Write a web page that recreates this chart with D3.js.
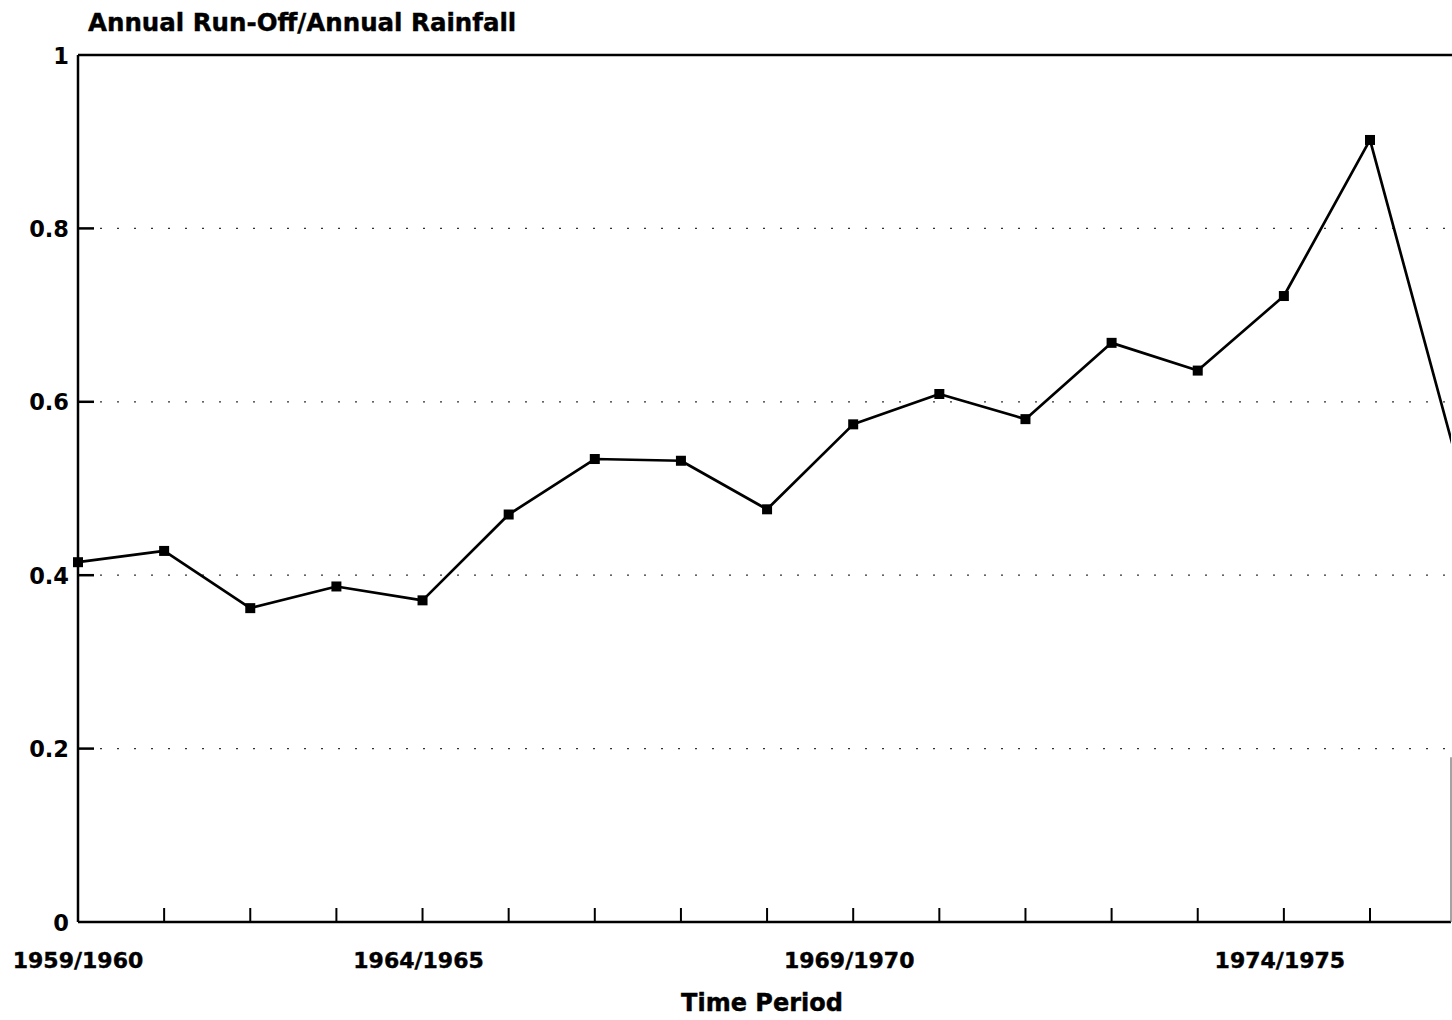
<!DOCTYPE html>
<html>
<head>
<meta charset="utf-8">
<script src="https://cdn.jsdelivr.net/npm/d3@7/dist/d3.min.js"></script>
<style>
  html, body { margin: 0; padding: 0; background: #fff; }
  svg { display: block; }
  text { font-family: "DejaVu Sans", sans-serif; font-weight: bold; fill: #000; }
</style>
</head>
<body>
<svg id="chart" width="1452" height="1020"></svg>
<script>
// ---- data ----
const periodIndex = [0,1,2,3,4,5,6,7,8,9,10,11,12,13,14,15,16];
const ratioValues = [0.415,0.428,0.362,0.387,0.371,0.470,0.534,0.532,0.476,0.574,0.609,0.580,0.668,0.636,0.722,0.902,0.535];
const xTickIndex = [0,4,9,14];
const xTickLabels = ["1959/1960","1964/1965","1969/1970","1974/1975"];
const yTicks = [0,0.2,0.4,0.6,0.8,1];
const yTickLabels = ["0","0.2","0.4","0.6","0.8","1"];
const titleText = "Annual Run-Off/Annual Rainfall";
const xTitle = "Time Period";

// ---- layout ----
const svg = d3.select("#chart");
const mLeft = 78, mRight = 1451, mTop = 55, mBottom = 922;

const x = d3.scaleLinear().domain([0, 15]).range([mLeft, 1370]);
const y = d3.scaleLinear().domain([0, 1]).range([mBottom, mTop]);

svg.append("defs").append("clipPath").attr("id","plotclip")
  .append("rect").attr("x", mLeft - 8).attr("y", mTop - 8)
  .attr("width", mRight - mLeft + 8).attr("height", mBottom - mTop + 16);

// gridlines (sparse dotted)
svg.append("g").selectAll("line").data(yTicks.filter(d => d > 0 && d < 1)).join("line")
  .attr("x1", mLeft + 22).attr("x2", mRight)
  .attr("y1", d => y(d)).attr("y2", d => y(d))
  .attr("stroke", "#333").attr("stroke-width", 1.3)
  .attr("stroke-dasharray", "2,15");

// frame: top line, left axis, bottom axis
svg.append("line").attr("x1", mLeft).attr("x2", 1452).attr("y1", y(1)).attr("y2", y(1))
  .attr("stroke", "#000").attr("stroke-width", 2.5);
svg.append("line").attr("x1", mLeft).attr("x2", mLeft).attr("y1", y(1)).attr("y2", y(0))
  .attr("stroke", "#000").attr("stroke-width", 2.5);
svg.append("line").attr("x1", mLeft).attr("x2", mRight).attr("y1", y(0)).attr("y2", y(0))
  .attr("stroke", "#000").attr("stroke-width", 2.5);
// faint right border (partially visible)
svg.append("line").attr("x1", mRight).attr("x2", mRight).attr("y1", y(0.19)).attr("y2", y(0))
  .attr("stroke", "#666").attr("stroke-width", 1.2);

// y ticks (inside) and labels
const yAxis = d3.axisLeft(y).tickValues(yTicks).tickSize(0).tickFormat((d,i) => yTickLabels[i]);
const gy = svg.append("g").attr("transform", `translate(${mLeft - 9},0)`).call(yAxis);
gy.select(".domain").remove();
gy.selectAll("text").attr("font-size", 22.5).attr("font-family", "DejaVu Sans").attr("font-weight", "bold")
  .attr("fill", "#000").attr("dy", "0.36em").attr("x", 0);
svg.append("g").selectAll("line").data(yTicks.filter(d => d > 0 && d < 1)).join("line")
  .attr("x1", mLeft).attr("x2", mLeft + 16)
  .attr("y1", d => y(d)).attr("y2", d => y(d))
  .attr("stroke", "#000").attr("stroke-width", 2.5);

// x ticks (inside, upward)
svg.append("g").selectAll("line").data(periodIndex.filter(d => d > 0 && d < 16)).join("line")
  .attr("x1", d => x(d)).attr("x2", d => x(d))
  .attr("y1", y(0)).attr("y2", y(0) - 14)
  .attr("stroke", "#000").attr("stroke-width", 2);

// x labels
svg.append("g").selectAll("text").data(xTickIndex).join("text")
  .attr("x", d => x(d) - (d > 0 ? 4 : 0)).attr("y", 968)
  .attr("text-anchor", "middle").attr("font-size", 22)
  .attr("stroke", "#000").attr("stroke-width", 0.4)
  .text((d,i) => xTickLabels[i]);

// line + markers
const pts = periodIndex.map((d,i) => [d, ratioValues[i]]);
const gPlot = svg.append("g").attr("clip-path", "url(#plotclip)");
gPlot.append("path").datum(pts)
  .attr("fill", "none").attr("stroke", "#000").attr("stroke-width", 2.7)
  .attr("stroke-linejoin", "round")
  .attr("d", d3.line().x(d => x(d[0])).y(d => y(d[1])));
gPlot.selectAll("rect.m").data(pts).join("rect").attr("class","m")
  .attr("x", d => x(d[0]) - 5).attr("y", d => y(d[1]) - 5)
  .attr("width", 10).attr("height", 10).attr("fill", "#000");

// titles
svg.append("text").attr("x", 88).attr("y", 31).attr("font-size", 24.5)
  .attr("stroke", "#000").attr("stroke-width", 0.4).text(titleText);
svg.append("text").attr("x", 762).attr("y", 1011).attr("text-anchor", "middle")
  .attr("font-size", 24).attr("stroke", "#000").attr("stroke-width", 0.4).text(xTitle);
</script>
</body>
</html>
